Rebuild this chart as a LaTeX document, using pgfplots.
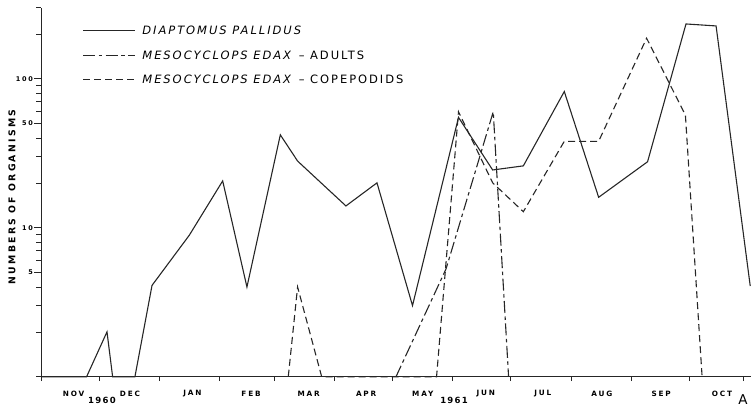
\documentclass[border=0pt]{standalone}
\usepackage{fontspec}
\usepackage{pgfplots}
\usepackage{pgfplotstable}
\pgfplotsset{compat=1.18}
\setmainfont{DejaVu Sans}
\newfontfamily\legendfont[LetterSpace=17, ItalicFont={DejaVu Sans Oblique}]{DejaVu Sans}
\newfontfamily\monthfont[LetterSpace=25]{DejaVu Sans Bold}
\newfontfamily\yearfont[LetterSpace=15]{DejaVu Sans Bold}
\newfontfamily\titlefont[LetterSpace=24]{DejaVu Sans Bold}

% Days counted from 1 November 1960; counts per sample (zero plotted on the baseline at 1)
\pgfplotstableread{
day count
0     1
23.5  1
34.0  2
36.9  1
48.4  1
57.2  4.1
76.4  8.9
93.6  20.6
106.1 4.0
123.3 42
132.2 28
157.1 14
173.1 20
191.4 3
215.1 55
232.7 24.4
248.5 26
269.6 82
287.3 16
312.5 27.7
332.3 233
347.8 226
365.4 4.06
}\diaptomus

\pgfplotstableread{
day count
182.9 1
208.7 5.3
233.0 60
240.9 1
}\edaxadults

\pgfplotstableread{
day count
127.4 1
132.2 4.0
144.6 1
203.8 1
215.1 60
232.7 20
248.5 12.8
269.6 38
287.3 38
312.0 187
332.0 57
340.6 1
}\edaxcopepodids

\begin{document}
\begin{tikzpicture}
\useasboundingbox (-41pt,-31.3pt) rectangle (712pt,376.7pt);
\begin{axis}[
  at={(0pt,0pt)}, anchor=south west,
  scale only axis, width=710.4pt, height=369.1pt,
  xmin=0, xmax=366,
  ymode=log, ymin=1, ymax=300,
  clip=false,
  axis lines=left,
  axis line style={-, black!85, line width=0.7pt},
  tick align=outside,
  xtick={16.3,45.3,77.5,107.7,137.4,167,196.2,228.6,258,288.5,319,350.3},
  xticklabels={NOV,DEC,JAN,FEB,MAR,APR,MAY,JUN,JUL,AUG,SEP,OCT},
  major x tick style={draw=none},
  minor xtick={0,30,61,92,120,151,181,212,242,273,304,334,362},
  ytick={5,10,50,100},
  yticklabels={5,10,50,100},
  minor ytick={1,2,3,4,6,7,8,9,20,30,40,60,70,80,90,200,300},
  major tick length=6.5pt,
  minor tick length=4.5pt,
  tick style={black!85, line width=0.6pt},
  xticklabel style={font=\monthfont\fontsize{7.3}{8}\selectfont, anchor=center, xshift=1pt, yshift=-10.3pt, inner sep=0pt},
  yticklabel style={font=\monthfont\fontsize{6.5}{7}\selectfont, inner sep=1.5pt},
  /pgf/number format/assume math mode=true,
  ylabel={NUMBERS OF ORGANISMS},
  every axis y label/.style={at={(axis description cs:-0.0408,0.487)}, rotate=90, anchor=center, font=\titlefont\fontsize{9.3}{10}\selectfont},
  legend style={draw=none, fill=none, at={(axis description cs:0.0587,1)}, anchor=north west, xshift=-3.3pt, yshift=-16.6pt,
    nodes={inner sep=0pt, text height=8.3pt, text depth=0pt, anchor=base west},
    row sep=16.2pt, column sep=6.7pt,
    font=\legendfont\fontsize{11.5}{13}\selectfont},
  legend cell align=left,
  legend image code/.code={\draw[#1] (0pt,4.15pt) -- (52pt,4.15pt);},
  every axis plot/.append style={black!85, line width=1.1pt, line join=miter},
]
\addplot[solid] table[x=day, y=count] {\diaptomus};
\addlegendentry{\textit{DIAPTOMUS PALLIDUS}}
\addplot[dash pattern=on 12pt off 3.5pt on 3.5pt off 3.5pt] table[x=day, y=count] {\edaxadults};
\addlegendentry{\textit{MESOCYCLOPS EDAX} – ADULTS}
\addplot[dash pattern=on 7pt off 4pt] table[x=day, y=count] {\edaxcopepodids};
\addlegendentry{\textit{MESOCYCLOPS EDAX} – COPEPODIDS}

\node[font=\yearfont\fontsize{8.5}{9}\selectfont] at (axis cs:31.4,1) [yshift=-23.3pt] {1960};
\node[font=\yearfont\fontsize{8.5}{9}\selectfont] at (axis cs:212.8,1) [yshift=-23.3pt] {1961};
\node[font=\fontsize{13.5}{14}\selectfont] at (axis cs:361.7,1) [yshift=-23.3pt] {A};
\end{axis}
\end{tikzpicture}
\end{document}
